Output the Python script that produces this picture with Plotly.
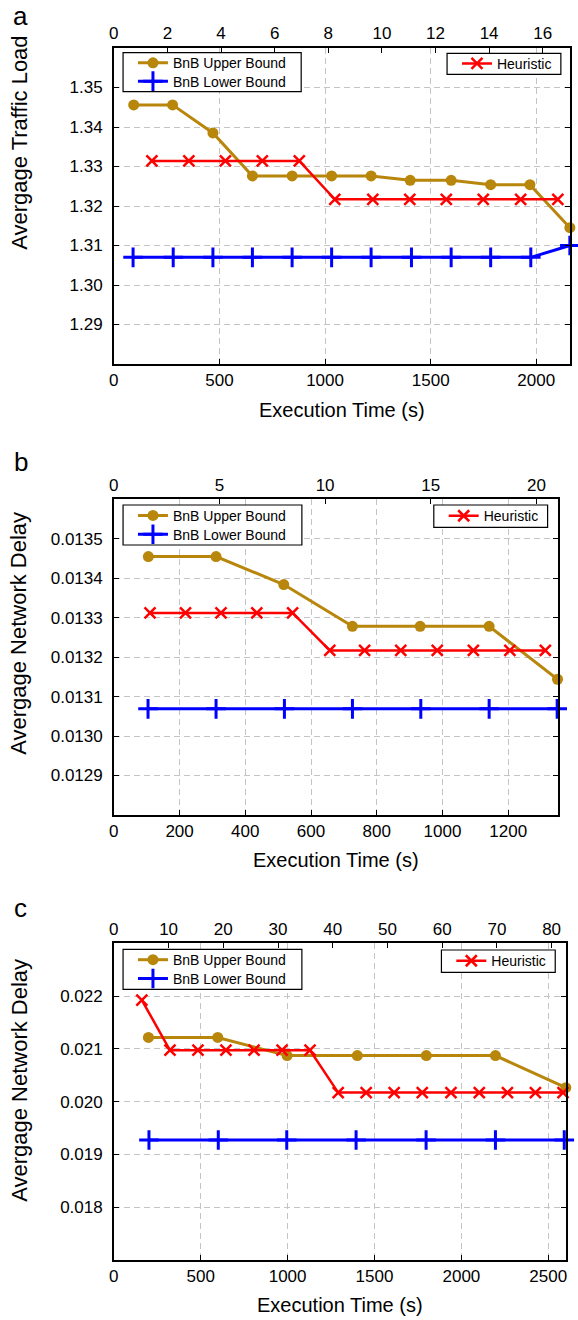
import plotly.graph_objects as go

# ---------------- data ----------------
# Panel a
a_upper_x = [94, 278, 469, 656, 844, 1031, 1218, 1403, 1597, 1784, 1970, 2159]
a_upper_y = [1.3456, 1.3456, 1.3385, 1.3276, 1.3276, 1.3276, 1.3276, 1.3265, 1.3265, 1.3254, 1.3254, 1.3145]
a_lower_x = [91, 281, 469, 656, 844, 1031, 1218, 1409, 1597, 1784, 1974, 2159]
a_lower_y = [1.307, 1.307, 1.307, 1.307, 1.307, 1.307, 1.307, 1.307, 1.307, 1.307, 1.307, 1.310]
a_heur_x = [180, 355, 528, 703, 878, 1046, 1226, 1401, 1574, 1749, 1926, 2102]
a_heur_y = [1.3314, 1.3314, 1.3314, 1.3314, 1.3314, 1.3217, 1.3217, 1.3217, 1.3217, 1.3217, 1.3217, 1.3217]

# Panel b
b_upper_x = [105, 311, 517, 726, 932, 1142, 1350]
b_upper_y = [0.013455, 0.013455, 0.013384, 0.013278, 0.013278, 0.013278, 0.013144]
b_lower_x = [104, 311, 519, 726, 934, 1142, 1349]
b_lower_y = [0.013069, 0.013069, 0.013069, 0.013069, 0.013069, 0.013069, 0.013069]
b_heur_x = [110, 218, 326, 435, 544, 657, 763, 873, 984, 1094, 1205, 1313]
b_heur_y = [0.013312, 0.013312, 0.013312, 0.013312, 0.013312, 0.013217, 0.013217, 0.013217,
            0.013217, 0.013217, 0.013217, 0.013217]

# Panel c
c_upper_x = [199, 598, 997, 1401, 1798, 2196, 2601]
c_upper_y = [0.021216, 0.021216, 0.020872, 0.020872, 0.020872, 0.020872, 0.020265]
c_lower_x = [202, 601, 995, 1394, 1797, 2196, 2592]
c_lower_y = [0.019273, 0.019273, 0.019273, 0.019273, 0.019273, 0.019273, 0.019273]
c_heur_x = [161, 323, 484, 645, 807, 968, 1129, 1291, 1452, 1613, 1775, 1940, 2103, 2265, 2426, 2585]
c_heur_y = [0.021925, 0.020974, 0.020974, 0.020974, 0.020974, 0.020974, 0.020974, 0.020171,
            0.020171, 0.020171, 0.020171, 0.020171, 0.020171, 0.020171, 0.020171, 0.020171]

# ticks
a_xticks = [0, 500, 1000, 1500, 2000]
a_topticks = [0, 2, 4, 6, 8, 10, 12, 14, 16]
a_yticks = [1.29, 1.30, 1.31, 1.32, 1.33, 1.34, 1.35]
a_yticktext = ["1.29", "1.30", "1.31", "1.32", "1.33", "1.34", "1.35"]

b_xticks = [0, 200, 400, 600, 800, 1000, 1200]
b_topticks = [0, 5, 10, 15, 20]
b_yticks = [0.0129, 0.0130, 0.0131, 0.0132, 0.0133, 0.0134, 0.0135]
b_yticktext = ["0.0129", "0.0130", "0.0131", "0.0132", "0.0133", "0.0134", "0.0135"]

c_xticks = [0, 500, 1000, 1500, 2000, 2500]
c_topticks = [0, 10, 20, 30, 40, 50, 60, 70, 80]
c_yticks = [0.018, 0.019, 0.020, 0.021, 0.022]
c_yticktext = ["0.018", "0.019", "0.020", "0.021", "0.022"]

series_names = ["BnB Upper Bound", "BnB Lower Bound", "Heuristic"]
x_title = "Execution Time (s)"
y_titles = ["Avergage Traffic Load", "Avergage Network Delay", "Avergage Network Delay"]
panel_labels = ["a", "b", "c"]

# ---------------- styling ----------------
W, H = 578, 1320
FONT = "Arial, Liberation Sans, Helvetica, sans-serif"
GOLD = "#B8860B"
BLUE = "#0000FF"
RED = "#FF0000"


def px_x(p):
    return p / W


def px_y(p):
    return 1 - p / H


panels = [
    dict(data=(a_upper_x, a_upper_y, a_lower_x, a_lower_y, a_heur_x, a_heur_y),
         xl=110, xr=571, yt=48, yb=364, xrange=[0, 2160], toprange=[0, 17.02], yrange=[1.28, 1.36],
         xticks=a_xticks, topticks=a_topticks, yticks=a_yticks, yticktext=a_yticktext,
         box_l=(119.3, 52.7, 299.3, 91.7), box_r=(446.7, 53.3, 561.7, 74.3),
         xtitle_y=410, ytitle_y=143, label_y=16),
    dict(data=(b_upper_x, b_upper_y, b_lower_x, b_lower_y, b_heur_x, b_heur_y),
         xl=110, xr=558.3, yt=499.3, yb=815, xrange=[0, 1350], toprange=[0, 21.0], yrange=[0.0128, 0.0136],
         xticks=b_xticks, topticks=b_topticks, yticks=b_yticks, yticktext=b_yticktext,
         box_l=(119.3, 505, 300, 545), box_r=(433.3, 505, 548.3, 527.3),
         xtitle_y=860, ytitle_y=633, label_y=462),
    dict(data=(c_upper_x, c_upper_y, c_lower_x, c_lower_y, c_heur_x, c_heur_y),
         xl=110, xr=566.7, yt=943.3, yb=1260, xrange=[0, 2601], toprange=[0, 82.6], yrange=[0.017, 0.023],
         xticks=c_xticks, topticks=c_topticks, yticks=c_yticks, yticktext=c_yticktext,
         box_l=(119.3, 949.3, 300, 989.3), box_r=(441, 950, 556, 972.3),
         xtitle_y=1305, ytitle_y=1080, label_y=908),
]

fig = go.Figure()
layout = dict(width=W, height=H, margin=dict(l=0, r=0, t=0, b=0),
              paper_bgcolor="white", plot_bgcolor="white",
              font=dict(family=FONT, color="black", size=17), annotations=[], shapes=[])

grid_style = dict(showgrid=True, gridcolor="#c4c4c4", gridwidth=1, griddash="6px,4px")
LEG_TEXT_OFF = 41  # distance from legend left edge to its text

for i, p in enumerate(panels):
    xb = "x" if i == 0 else f"x{2 * i + 1}"
    xt = f"x{2 * i + 2}"
    yy = "y" if i == 0 else f"y{i + 1}"
    xb_key = "xaxis" if i == 0 else f"xaxis{2 * i + 1}"
    xt_key = f"xaxis{2 * i + 2}"
    yy_key = "yaxis" if i == 0 else f"yaxis{i + 1}"
    legs = ["legend" if 3 * i == 0 else f"legend{3 * i + 1}", f"legend{3 * i + 2}", f"legend{3 * i + 3}"]

    ux, uy, lx, ly, hx, hy = p["data"]
    fig.add_trace(go.Scatter(x=ux, y=uy, name=series_names[0], mode="lines+markers",
                             line=dict(color=GOLD, width=3),
                             marker=dict(symbol="circle", size=11, color=GOLD),
                             xaxis=xb, yaxis=yy, legend=legs[0], cliponaxis=False))
    fig.add_trace(go.Scatter(x=lx, y=ly, name=series_names[1], mode="lines+markers",
                             line=dict(color=BLUE, width=3),
                             marker=dict(symbol="cross-thin", size=14, color=BLUE,
                                         line=dict(color=BLUE, width=3)),
                             xaxis=xb, yaxis=yy, legend=legs[1], cliponaxis=False))
    fig.add_trace(go.Scatter(x=hx, y=hy, name=series_names[2], mode="lines+markers",
                             line=dict(color=RED, width=2.5),
                             marker=dict(symbol="x-thin", size=11, color=RED,
                                         line=dict(color=RED, width=2.5)),
                             xaxis=xb, yaxis=yy, legend=legs[2], cliponaxis=False))
    # invisible trace to anchor the top axis
    fig.add_trace(go.Scatter(x=[p["toprange"][0]], y=[p["yrange"][0]], mode="markers",
                             marker=dict(opacity=0), showlegend=False, hoverinfo="skip",
                             xaxis=xt, yaxis=yy))

    dom_x = [px_x(p["xl"]), px_x(p["xr"])]
    dom_y = [px_y(p["yb"]), px_y(p["yt"])]

    layout[xb_key] = dict(domain=dom_x, anchor=yy, range=p["xrange"], tickmode="array",
                          tickvals=p["xticks"], ticks="inside", ticklen=5, tickwidth=1,
                          tickcolor="black", showline=True, linecolor="black", linewidth=1.5,
                          mirror=True, zeroline=False, tickfont=dict(size=17, family=FONT),
                          ticklabelstandoff=0, **grid_style)
    layout[xt_key] = dict(domain=dom_x, anchor=yy, overlaying=xb, side="top", range=p["toprange"],
                          tickmode="array", tickvals=p["topticks"], ticks="inside", ticklen=5,
                          tickwidth=1, tickcolor="black", showline=True, linecolor="black",
                          linewidth=1.5, showgrid=False, zeroline=False,
                          tickfont=dict(size=17, family=FONT), ticklabelstandoff=0)
    layout[yy_key] = dict(domain=dom_y, anchor=xb, range=p["yrange"], tickmode="array",
                          tickvals=p["yticks"], ticktext=p["yticktext"], ticks="inside", ticklen=5,
                          tickwidth=1, tickcolor="black", showline=True, linecolor="black",
                          linewidth=1.5, mirror="ticks", zeroline=False,
                          tickfont=dict(size=17, family=FONT), ticklabelstandoff=6, **grid_style)

    # legend boxes (frames) and legend entries
    for (x0, y0, x1, y1) in (p["box_l"], p["box_r"]):
        layout["shapes"].append(dict(type="rect", xref="paper", yref="paper",
                                     x0=px_x(x0), x1=px_x(x1), y0=px_y(y1), y1=px_y(y0),
                                     fillcolor="white", line=dict(color="black", width=1.2),
                                     layer="above"))
    bl = p["box_l"]
    br = p["box_r"]
    row1 = bl[1] + (bl[3] - bl[1]) * 0.27
    row2 = bl[1] + (bl[3] - bl[1]) * 0.74
    rowr = (br[1] + br[3]) / 2
    leg_common = dict(bgcolor="rgba(0,0,0,0)", borderwidth=0,
                      font=dict(size=14, family=FONT), yanchor="middle", xanchor="left")
    layout[legs[0]] = dict(x=px_x(bl[0] + 51 - LEG_TEXT_OFF), y=px_y(row1), **leg_common)
    layout[legs[1]] = dict(x=px_x(bl[0] + 51 - LEG_TEXT_OFF), y=px_y(row2), **leg_common)
    layout[legs[2]] = dict(x=px_x(br[0] + 51 - LEG_TEXT_OFF), y=px_y(rowr), **leg_common)

    layout["annotations"].append(dict(text=x_title, x=px_x((p["xl"] + p["xr"]) / 2),
                                      y=px_y(p["xtitle_y"]), xref="paper", yref="paper",
                                      xanchor="center", yanchor="middle", showarrow=False,
                                      font=dict(size=20, family=FONT)))
    layout["annotations"].append(dict(text=y_titles[i], x=px_x(14), y=px_y(p["ytitle_y"]),
                                      xref="paper", yref="paper", xanchor="center",
                                      yanchor="middle", textangle=-90, showarrow=False,
                                      font=dict(size=22, family=FONT)))
    layout["annotations"].append(dict(text=panel_labels[i], x=px_x(16), y=px_y(p["label_y"]),
                                      xref="paper", yref="paper", xanchor="center",
                                      yanchor="middle", showarrow=False,
                                      font=dict(size=26, family=FONT)))

fig.update_layout(**layout)
fig.write_html("out.html",
               config={"displayModeBar": False},
               post_script="document.body.style.margin='0px';"
                           "document.documentElement.style.overflow='hidden';")
